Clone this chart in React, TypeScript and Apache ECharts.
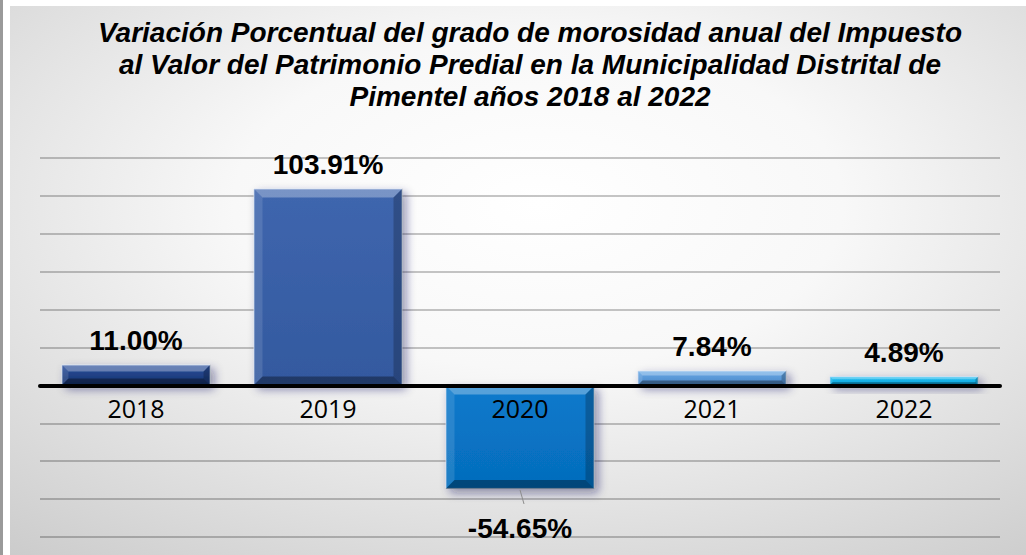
import React, { useEffect, useRef } from "react";
import * as echarts from "echarts";

const categories = ["2018", "2019", "2020", "2021", "2022"];
const values = [11.0, 103.91, -54.65, 7.84, 4.89];
const valueLabels = ["11.00%", "103.91%", "-54.65%", "7.84%", "4.89%"];
const titleLines = [
  "Variación Porcentual del grado de morosidad anual del Impuesto",
  "al Valor del Patrimonio Predial en la Municipalidad Distrital de",
  "Pimentel años 2018 al 2022",
];
const barTop = ["#2a4f9c", "#3f66ae", "#0a7acc", "#66a8e6", "#22c0f2"];
const barBottom = ["#17336f", "#33599f", "#056cbc", "#4e88c8", "#0aa2dc"];

const BAR_W = 149;

export default function App() {
  const ref = useRef<HTMLDivElement>(null);
  useEffect(() => {
    document.body.style.margin = "0";
    const chart = echarts.init(ref.current!, null, { renderer: "svg" });
    const option: any = {
      animation: false,
      graphic: [
        {
          type: "rect",
          z: -10,
          silent: true,
          shape: { x: 0, y: 0, width: 3, height: 555 },
          style: { fill: "#9a9a9a" },
        },
        {
          type: "rect",
          z: -10,
          silent: true,
          shape: { x: 10, y: 6, width: 1016, height: 549 },
          style: {
            fill: new echarts.graphic.RadialGradient(0.52, 0.36, 1, [
              { offset: 0, color: "#ffffff" },
              { offset: 0.3, color: "#f8f8f8" },
              { offset: 1, color: "#bdbdbd" },
            ]),
          },
        },
        {
          type: "text",
          silent: true,
          x: 530,
          y: 16,
          style: {
            text: titleLines.join("\n"),
            fontFamily: "Liberation Sans, Arial, sans-serif",
            fontWeight: "bold",
            fontStyle: "italic",
            fontSize: 28,
            lineHeight: 32,
            fill: "#000",
            textAlign: "center",
            textVerticalAlign: "top",
          },
        },
      ],
      grid: {
        left: 40,
        right: 26,
        top: 158,
        bottom: 18,
        containLabel: false,
        outerBoundsMode: "none",
      },
      xAxis: {
        type: "category",
        data: categories,
        z: 10,
        axisLine: { onZero: true, lineStyle: { color: "#000", width: 4 } },
        axisTick: { show: false },
        axisLabel: { show: false },
        splitLine: { show: false },
      },
      yAxis: {
        type: "value",
        min: -80,
        max: 120,
        interval: 20,
        axisLabel: { show: false },
        axisLine: { show: false },
        axisTick: { show: false },
        splitLine: { lineStyle: { color: "rgba(0,0,0,0.3)", width: 1.5 } },
      },
      series: [
        {
          type: "bar",
          barWidth: BAR_W,
          z: 2,
          data: values.map((v, i) => ({
            value: v,
            itemStyle: {
              color: new echarts.graphic.LinearGradient(0, 0, 0, 1, [
                { offset: 0, color: barTop[i] },
                { offset: 1, color: barBottom[i] },
              ]),
            },
            label:
              v < 0
                ? { position: "bottom", distance: 26 }
                : { position: "top", distance: 10 },
          })),
          itemStyle: {
            borderColor: "rgba(200,215,240,0.7)",
            borderWidth: 1,
            shadowBlur: 10,
            shadowColor: "rgba(20,30,90,0.45)",
            shadowOffsetX: 4,
            shadowOffsetY: 4,
          },
          label: {
            show: true,
            formatter: (p: any) => valueLabels[p.dataIndex],
            color: "#000",
            fontFamily: "Liberation Sans, Arial, sans-serif",
            fontWeight: "bold",
            fontSize: 28,
          },
        },
        {
          type: "custom",
          z: 3,
          silent: true,
          data: values.map((v, i) => [i, v]),
          renderItem: (params: any, api: any) => {
            const i = api.value(0);
            const v = api.value(1);
            const p0 = api.coord([i, 0]);
            const p1 = api.coord([i, v]);
            const x0 = p0[0] - BAR_W / 2;
            const x1 = p0[0] + BAR_W / 2;
            const y0 = Math.min(p0[1], p1[1]);
            const y1 = Math.max(p0[1], p1[1]);
            const h = y1 - y0;
            const b = Math.min(9, h / 3);
            const children: any[] = [
              {
                type: "polygon",
                shape: { points: [[x0, y0], [x1, y0], [x1 - b, y0 + b], [x0 + b, y0 + b]] },
                style: { fill: "rgba(255,255,255,0.3)" },
              },
              {
                type: "polygon",
                shape: { points: [[x0, y0], [x0 + b, y0 + b], [x0 + b, y1 - b], [x0, y1]] },
                style: { fill: "rgba(255,255,255,0.12)" },
              },
              {
                type: "polygon",
                shape: { points: [[x1, y0], [x1, y1], [x1 - b, y1 - b], [x1 - b, y0 + b]] },
                style: { fill: "rgba(0,0,0,0.22)" },
              },
              {
                type: "polygon",
                shape: { points: [[x0, y1], [x0 + b, y1 - b], [x1 - b, y1 - b], [x1, y1]] },
                style: { fill: "rgba(0,0,0,0.35)" },
              },
            ];
            if (v < 0) {
              children.push({
                type: "line",
                shape: { x1: p1[0], y1: y1 + 1, x2: p1[0] + 4, y2: y1 + 15 },
                style: { stroke: "#8c8c8c", lineWidth: 1 },
              });
            }
            return { type: "group", children };
          },
        },
        {
          type: "custom",
          z: 12,
          silent: true,
          data: categories.map((c, i) => [i, 0]),
          renderItem: (params: any, api: any) => {
            const i = api.value(0);
            const p = api.coord([i, 0]);
            return {
              type: "text",
              x: p[0],
              y: p[1] + 23,
              style: {
                text: categories[i],
                fontFamily: "Open Sans, sans-serif",
                fontSize: 25,
                fill: "#000",
                textAlign: "center",
                textVerticalAlign: "middle",
              },
            };
          },
        },
      ],
    };
    chart.setOption(option);
    return () => chart.dispose();
  }, []);
  return <div ref={ref} style={{ width: 1026, height: 555 }} />;
}
